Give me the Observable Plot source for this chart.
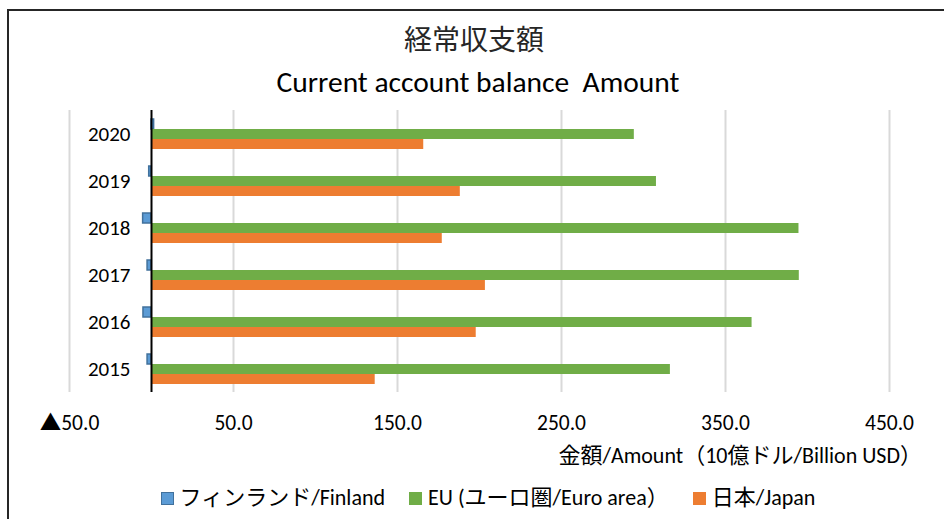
<!DOCTYPE html>
<html>
<head>
<meta charset="utf-8">
<script src="https://cdn.jsdelivr.net/npm/d3@7"></script>
<script src="https://cdn.jsdelivr.net/npm/@observablehq/plot@0.6"></script>
<style>
  html, body { margin: 0; padding: 0; background: #fff; overflow: hidden; }
  body { width: 944px; height: 519px; position: relative;
         font-family: Carlito, Lato, "Noto Sans CJK JP", sans-serif; color: #000; }
  #frame { position: absolute; left: 7px; top: 9px; width: 980px; height: 560px;
           border: 2px solid #262626; box-sizing: border-box; }
  .t { position: absolute; white-space: nowrap; text-align: center; line-height: 1; }
  #title { left: 0; width: 948px; top: 27px; font-size: 28px; color: #262626; }
  #subtitle { left: 0; width: 956px; top: 68px; font-size: 29.5px; color: #000; }
  #xlabel { position: absolute; right: 22px; top: 445px; font-size: 22px; line-height: 1; white-space: nowrap; }
  #legend { position: absolute; left: 0; width: 976px; top: 487px; display: flex; justify-content: center;
            gap: 24px; font-size: 22px; line-height: 1; white-space: nowrap; }
  .item { display: flex; align-items: center; gap: 6px; }
  .sw { width: 13px; height: 13px; box-sizing: border-box; display: inline-block; }
  #chart { position: absolute; left: 0; top: 0; }
</style>
</head>
<body>
<div id="frame"></div>
<div id="title" class="t">経常収支額</div>
<div id="subtitle" class="t">Current account balance&nbsp; Amount</div>
<div id="chart"></div>
<div id="xlabel">金額/Amount（10億ドル/Billion USD）</div>
<div id="legend"></div>
<script>
// ---- data ----
const years = [2015, 2016, 2017, 2018, 2019, 2020];
const seriesKeys = ["Finland", "EU", "Japan"];
const seriesNames = ["フィンランド/Finland", "EU (ユーロ圏/Euro area）", "日本/Japan"];
const seriesColors = ["#5B9BD5", "#70AD47", "#ED7D31"];
const seriesStrokes = ["#41719C", "#70AD47", "#ED7D31"];
const finland = [-2.4, -4.9, -2.4, -5.1, -1.4, 1.6];
const eu = [316.4, 366.2, 395.0, 394.8, 307.9, 294.4];
const japan = [136.4, 198.0, 203.6, 177.3, 188.3, 166.0];
const xTicks = [-50, 50, 150, 250, 350, 450];

const valuesBySeries = [finland, eu, japan];
const rows = [];
years.forEach((yr, i) => {
  seriesKeys.forEach((k, j) => rows.push({year: yr, series: k, value: valuesBySeries[j][i]}));
});

const fmt = d => (d < 0 ? "▲" + Math.abs(d).toFixed(1) : d.toFixed(1));

const chart = Plot.plot({
  width: 944,
  height: 445,
  marginLeft: 69,
  marginRight: 55,
  marginTop: 110,
  marginBottom: 53,
  style: {fontFamily: 'Carlito, Lato, "Noto Sans CJK JP", sans-serif', color: "#000", background: "transparent"},
  x: {domain: [-50, 450]},
  fy: {domain: years.slice().reverse(), padding: 0},
  y: {domain: seriesKeys, paddingInner: 0, paddingOuter: 0.74, axis: null},
  color: {domain: seriesKeys, range: seriesColors},
  marks: [
    Plot.gridX(xTicks, {stroke: "#d9d9d9", strokeOpacity: 1, strokeWidth: 2}),
    Plot.barX(rows, {
      x: "value", y: "series", fy: "year", fill: "series",
      stroke: d => seriesStrokes[seriesKeys.indexOf(d.series)],
      strokeWidth: d => (d.series === "Finland" ? 1.5 : 0),
      insetTop: 0, insetBottom: 0
    }),
    Plot.ruleX([0], {stroke: "#000", strokeWidth: 2}),
    Plot.axisFy({anchor: "left", tickSize: 0, tickPadding: 0, dx: 61, fontSize: 21, tickFormat: d => String(d), label: null}),
    Plot.axisX(xTicks, {anchor: "bottom", tickSize: 0, tickPadding: 22, tickFormat: fmt, fontSize: 21.5, label: null})
  ]
});
document.getElementById("chart").appendChild(chart);

// legend
const legend = document.getElementById("legend");
seriesKeys.forEach((k, j) => {
  const it = document.createElement("div");
  it.className = "item";
  const sw = document.createElement("span");
  sw.className = "sw";
  sw.style.background = seriesColors[j];
  sw.style.border = "1.5px solid " + seriesStrokes[j];
  const tx = document.createElement("span");
  tx.textContent = seriesNames[j];
  it.appendChild(sw);
  it.appendChild(tx);
  legend.appendChild(it);
});
</script>
</body>
</html>
